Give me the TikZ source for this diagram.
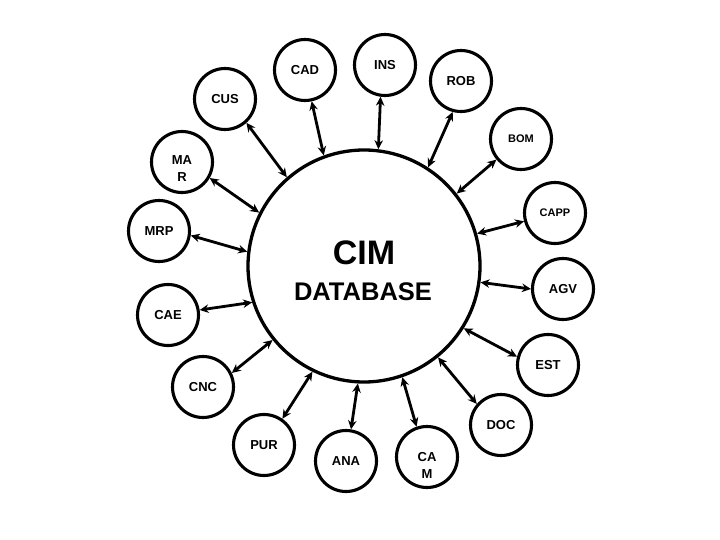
\documentclass[tikz,border=0pt]{standalone}
\usepackage{fontspec}
\setmainfont{Liberation Sans}
\usetikzlibrary{arrows.meta}
\begin{document}
\begin{tikzpicture}[x=1pt,y=-1pt,
  sat/.style={circle,draw,line width=3.1pt,minimum size=61pt,inner sep=0pt,font=\bfseries\fontsize{13}{16}\selectfont,align=center},
  small/.style={font=\bfseries\fontsize{11}{13}\selectfont},
  link/.style={line width=2.8pt,{Stealth[length=9pt,width=8.5pt]}-{Stealth[length=9pt,width=8.5pt]}},
  multi/.style={font=\bfseries\fontsize{13}{16.5}\selectfont,align=center}]
\useasboundingbox[fill=white] (0,0) rectangle (720,540);
\node[circle,draw,line width=3.3pt,minimum size=232pt] (db) at (364,266) {};
\node[font=\bfseries\fontsize{34}{36}\selectfont,anchor=base] (cim) at (364,264) {CIM};
\node[font=\bfseries\fontsize{25.5}{30}\selectfont,anchor=base] (dbt) at (363,300) {DATABASE};

\node[sat] (cad) at (305,70) {CAD};
\node[sat] (ins) at (385,65) {INS};
\node[sat] (rob) at (461,81) {ROB};
\node[sat] (cus) at (225,99) {CUS};
\node[sat,small] (bom) at (521,139) {BOM};
\node[sat,label={[multi,yshift=-6.5pt]center:MA\\R}] (mar) at (182,162) {};
\node[sat,small] (capp) at (555,213) {CAPP};
\node[sat] (mrp) at (159,231) {MRP};
\node[sat] (agv) at (563,289) {AGV};
\node[sat] (cae) at (168,315) {CAE};
\node[sat] (est) at (548,365) {EST};
\node[sat] (cnc) at (203,387) {CNC};
\node[sat] (doc) at (501,425) {DOC};
\node[sat] (pur) at (264,445) {PUR};
\node[sat] (ana) at (346,461) {ANA};
\node[sat,label={[multi,yshift=-8.5pt]center:CA\\M}] (cam) at (427,457) {};

\draw[link] (cad.-78) -- (db.110.7);
\draw[link] (ins.-98) -- (db.83.7);
\draw[link] (rob.-105.7) -- (db.57.8);
\draw[link] (cus.-48.5) -- (db.131.9);
\draw[link] (bom.-140) -- (db.38);
\draw[link] (mar.-30) -- (db.153.6);
\draw[link] (mrp.-8) -- (db.173.7);
\draw[link] (cae.9) -- (db.-162.6);
\draw[link] (capp.195.7) -- (db.16.6);
\draw[link] (agv.180) -- (db.-8.3);
\draw[link] (est.165.5) -- (db.-32.9);
\draw[link] (cnc.26.6) -- (db.-141.9);
\draw[link] (pur.55.8) -- (db.-116);
\draw[link] (ana.81) -- (db.-93.4);
\draw[link] (cam.109) -- (db.-71);
\draw[link] (doc.139.8) -- (db.-51);
\end{tikzpicture}
\end{document}
